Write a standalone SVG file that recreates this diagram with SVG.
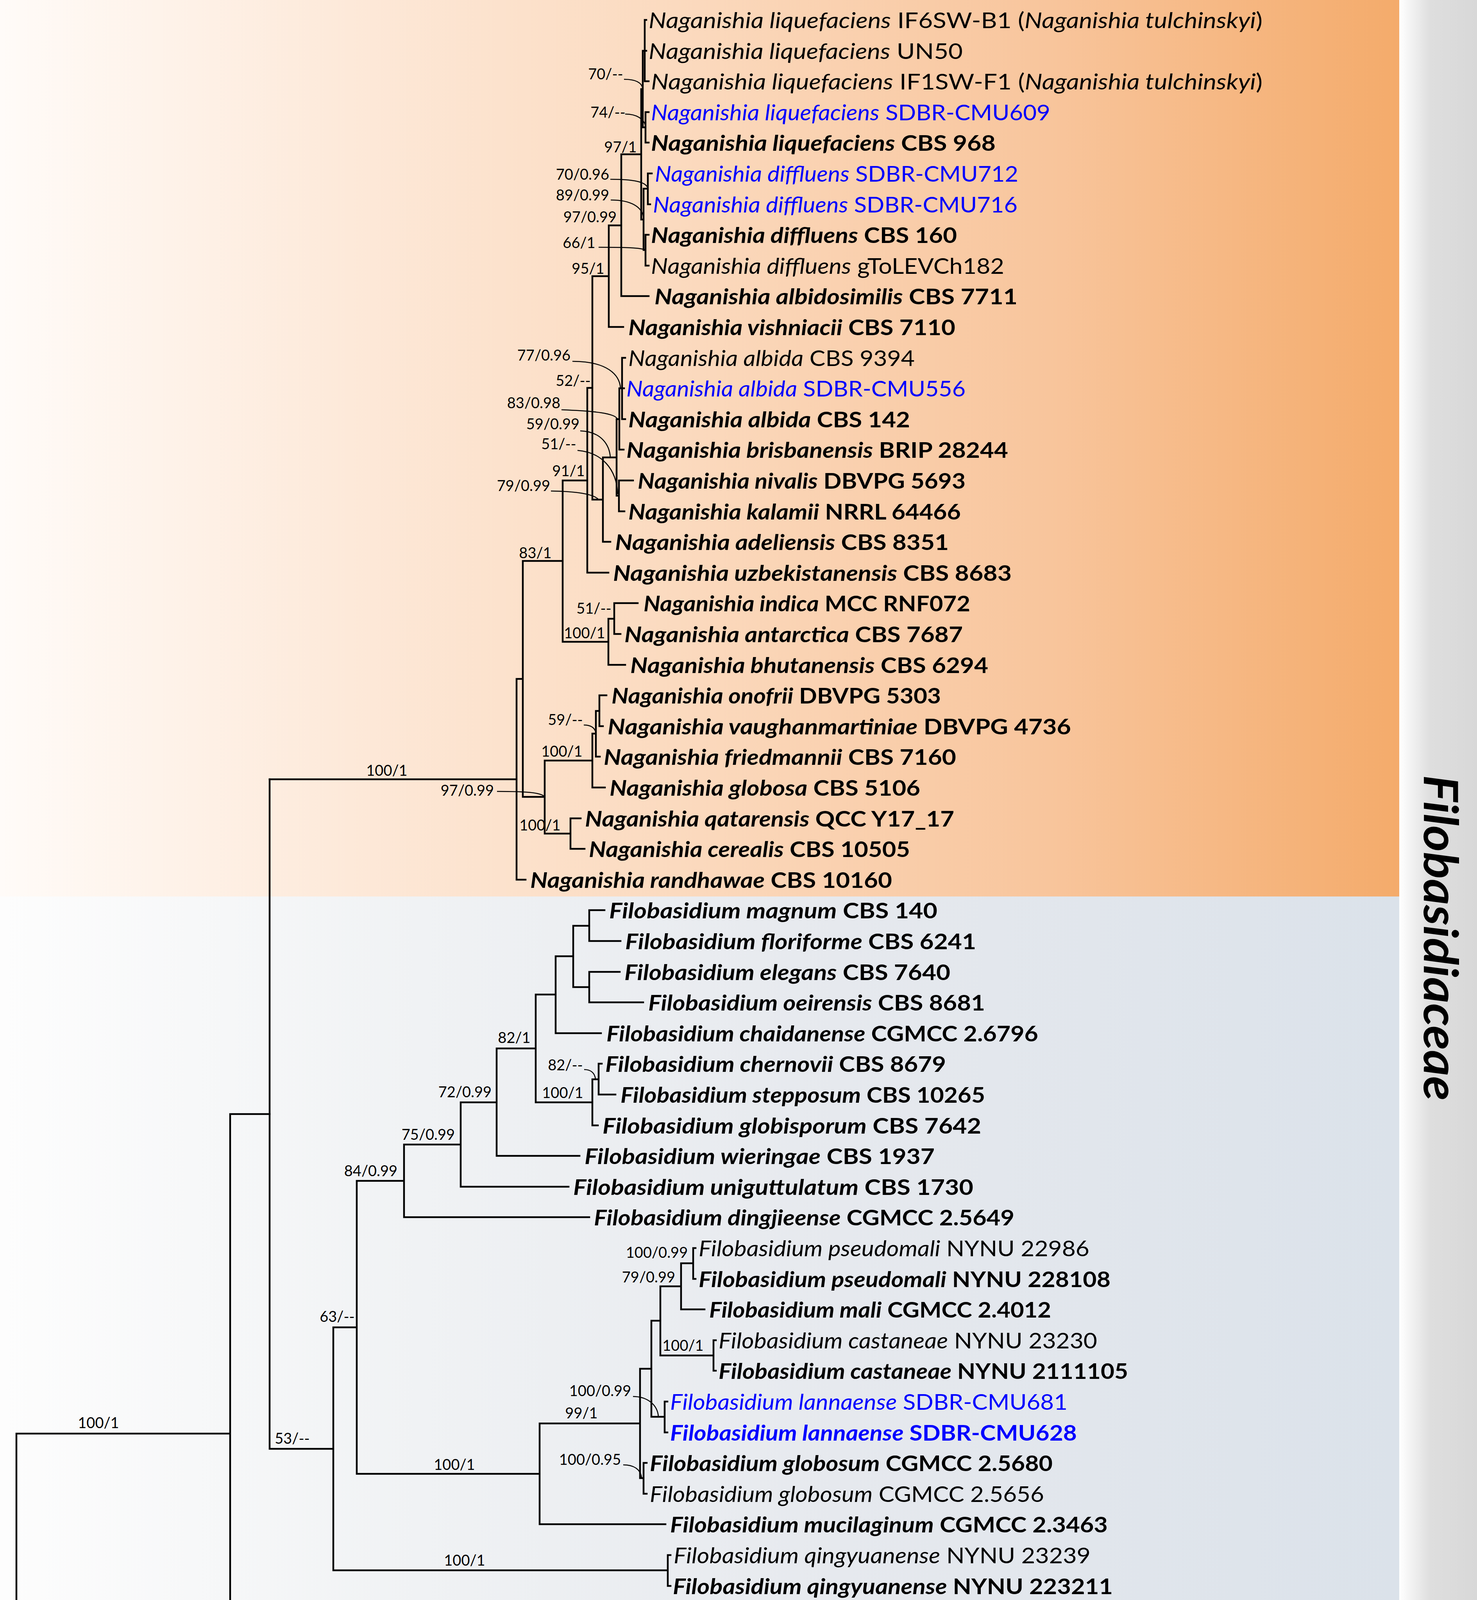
<svg xmlns="http://www.w3.org/2000/svg" width="3780" height="5126" viewBox="0 0 3780 5126">
<defs>
<linearGradient id="gOr" gradientUnits="userSpaceOnUse" x1="0" y1="0" x2="3581" y2="0">
<stop offset="0" stop-color="#fffbf8"/><stop offset="0.25" stop-color="#fde9d9"/><stop offset="0.5" stop-color="#fbd9bd"/><stop offset="0.75" stop-color="#f8c59c"/><stop offset="1" stop-color="#f4ab6b"/>
</linearGradient>
<linearGradient id="gBl" gradientUnits="userSpaceOnUse" x1="0" y1="0" x2="3581" y2="0">
<stop offset="0" stop-color="#fdfdfd"/><stop offset="0.3" stop-color="#f0f2f4"/><stop offset="0.6" stop-color="#e6e9ee"/><stop offset="1" stop-color="#dbe2ea"/>
</linearGradient>
<linearGradient id="gGr" gradientUnits="userSpaceOnUse" x1="0" y1="0" x2="3780" y2="0">
<stop offset="0" stop-color="#fbfbfb"/><stop offset="0.3" stop-color="#e3e3e3"/><stop offset="0.6" stop-color="#d0d2d3"/><stop offset="0.85" stop-color="#c2c5c7"/><stop offset="1" stop-color="#bec2c4"/>
</linearGradient>
<linearGradient id="gSt" gradientUnits="userSpaceOnUse" x1="3581" y1="0" x2="3780" y2="0">
<stop offset="0" stop-color="#ffffff"/><stop offset="0.4" stop-color="#dedede"/><stop offset="1" stop-color="#d8d8d8"/>
</linearGradient>
</defs>
<style>
.lf{font-family:Lato,"Liberation Sans",sans-serif;font-size:56px;fill:#000}
.i{font-style:italic}
.b{font-weight:bold}
.blue{fill:#0000ff}
.sup{font-family:Lato,"Liberation Sans",sans-serif;font-size:38px;text-anchor:middle;fill:#000}
.br{stroke:#000;stroke-width:4.5;fill:none;stroke-linecap:square}
.ld{stroke:#000;stroke-width:2.6;fill:none}
</style>
<g id="background">
<rect x="0" y="0" width="3780" height="5126" fill="#ffffff"/>
<rect x="0" y="0" width="3581" height="2295" fill="url(#gOr)"/>
<rect x="0" y="2295" width="3581" height="1804" fill="url(#gBl)"/>
<rect x="0" y="4099" width="3581" height="232" fill="url(#gOr)"/>
<rect x="0" y="4331" width="3581" height="163" fill="url(#gBl)"/>
<rect x="0" y="4494" width="3581" height="150" fill="url(#gOr)"/>
<rect x="0" y="4644" width="3581" height="160" fill="url(#gBl)"/>
<rect x="0" y="4804" width="3780" height="234" fill="url(#gGr)"/>
<rect x="3581" y="0" width="199" height="4804" fill="url(#gSt)"/>
</g>
<g id="connectors">
<path class="br" d="M1650,51V208 M1650,51H1654 M1650,130H1654 M1650,208H1660
M1652,287V365 M1652,287H1660 M1652,365H1660
M1645,130V326 M1645,130H1650 M1645,326H1652
M1658,444V523 M1658,444H1668 M1658,523H1664
M1652,601V680 M1652,601H1660 M1652,680H1660
M1647,483V640 M1647,483H1658 M1647,640H1652
M1641,228V562 M1641,228H1645 M1641,562H1647
M1590,395V758 M1590,395H1641 M1590,758H1660
M1558,577V837 M1558,577H1590 M1558,837H1595
M1516,707V1279 M1516,707H1558 M1516,1279H1543
M1592,916V1073 M1592,916H1600 M1592,994H1597 M1592,1073H1600
M1585,994V1151 M1585,994H1592 M1585,1151H1596
M1584,1230V1309 M1584,1230H1620 M1584,1309H1598
M1578,1073V1269 M1578,1073H1585 M1578,1269H1584
M1543,1171V1387 M1543,1171H1578 M1543,1387H1562
M1503,993V1466 M1503,993H1516 M1503,1466H1557
M1572,1544V1623 M1572,1544H1632 M1572,1623H1588
M1557,1584V1702 M1557,1584H1572 M1557,1702H1600
M1440,1230V1643 M1440,1230H1503 M1440,1643H1557
M1534,1780V1859 M1534,1780H1552 M1534,1859H1543
M1525,1820V1937 M1525,1820H1534 M1525,1937H1535
M1516,1878V2016 M1516,1878H1525 M1516,2016H1548
M1460,2095V2173 M1460,2095H1486 M1460,2173H1496
M1394,1947V2134 M1394,1947H1516 M1394,2134H1460
M1338,1436V2040 M1338,1436H1440 M1338,2040H1394
M1322,1738V2252 M1322,1738H1338 M1322,2252H1345
M690,1995H1322"/>
<path class="br" d="M1508,2330V2409 M1508,2330H1547 M1508,2409H1588
M1508,2488V2566 M1508,2488H1586 M1508,2566H1646
M1467,2370V2527 M1467,2370H1508 M1467,2527H1508
M1422,2448V2645 M1422,2448H1467 M1422,2645H1538
M1532,2723V2802 M1532,2723H1540 M1532,2802H1575
M1516,2763V2881 M1516,2763H1532 M1516,2881H1530
M1371,2546V2822 M1371,2546H1422 M1371,2822H1516
M1271,2684V2959 M1271,2684H1371 M1271,2959H1483
M1179,2822V3038 M1179,2822H1271 M1179,3038H1455
M1034,2930V3116 M1034,2930H1179 M1034,3116H1508
M1774,3195V3274 M1774,3195H1780 M1774,3274H1780
M1743,3234V3352 M1743,3234H1774 M1743,3352H1803
M1826,3431V3509 M1826,3431H1832 M1826,3509H1832
M1690,3293V3470 M1690,3293H1743 M1690,3470H1826
M1701,3588V3667 M1701,3588H1708 M1701,3667H1708
M1667,3381V3627 M1667,3381H1690 M1667,3627H1701
M1647,3745V3824 M1647,3745H1655 M1647,3824H1655
M1638,3504V3784 M1638,3504H1667 M1638,3784H1647
M1381,3644V3902 M1381,3644H1638 M1381,3902H1703
M913,3023V3773 M913,3023H1034 M913,3773H1381
M1709,3981V4060 M1709,3981H1716 M1709,4060H1716
M853,3398V4020 M853,3398H913 M853,4020H1709
M690,1995V3709 M690,3709H853"/>
<path class="br" d="M1756,4138V4217 M1756,4138H1928 M1756,4217H1810
M1648,4178V4295 M1648,4178H1756 M1648,4295H1880
M2094,4374V4453 M2094,4374H2137 M2094,4453H2285
M1311,4237V4413 M1311,4237H1648 M1311,4413H2094
M1454,4531V4610 M1454,4531H2130 M1454,4610H2528
M1591,4688V4767 M1591,4688H1697 M1591,4767H1775
M829,4570V4728 M829,4570H1454 M829,4728H1591
M745,4325V4649 M745,4325H1311 M745,4649H829
M589,2852V4487 M589,2852H690 M589,4487H745
M1250,4846V4924 M1250,4846H1310 M1250,4924H1345
M1136,4885V5003 M1136,4885H1250 M1136,5003H1206
M42,3670V4944 M42,3670H589 M42,4944H1136 M14,4307H42"/>
<g id="leaders">
<path class="ld" d="M1597,203 C1625,203 1643,210 1645,228"/>
<path class="ld" d="M1600,292 C1630,292 1648,305 1652,322"/>
<path class="ld" d="M1562,459 C1620,459 1655,465 1658,483"/>
<path class="ld" d="M1563,512 C1615,512 1645,530 1647,559"/>
<path class="ld" d="M1532,633 C1600,633 1640,634 1652,640"/>
<path class="ld" d="M1465,925 C1555,925 1586,960 1588,994"/>
<path class="ld" d="M1437,1049 C1520,1052 1575,1058 1580,1073"/>
<path class="ld" d="M1485,1103 C1540,1105 1560,1140 1562,1171"/>
<path class="ld" d="M1478,1153 C1540,1158 1578,1200 1581,1265"/>
<path class="ld" d="M1410,1257 C1480,1258 1520,1265 1532,1279"/>
<path class="ld" d="M1494,1856 C1510,1856 1522,1862 1525,1876"/>
<path class="ld" d="M1272,2026 C1340,2026 1385,2028 1394,2040"/>
<path class="ld" d="M1495,2738 C1510,2738 1522,2745 1524,2763"/>
<path class="ld" d="M1620,3575 C1655,3575 1683,3595 1685,3627"/>
<path class="ld" d="M1595,3750 C1620,3750 1640,3760 1642,3784"/>
</g>
</g>
<g id="support">
<text class="sup" x="1550" y="203">70/--</text>
<text class="sup" x="1556" y="301">74/--</text>
<text class="sup" x="1588" y="390">97/1</text>
<text class="sup" x="1491" y="460">70/0.96</text>
<text class="sup" x="1491" y="513">89/0.99</text>
<text class="sup" x="1510" y="569">97/0.99</text>
<text class="sup" x="1482" y="635">66/1</text>
<text class="sup" x="1505" y="701">95/1</text>
<text class="sup" x="1392" y="923">77/0.96</text>
<text class="sup" x="1467" y="988">52/--</text>
<text class="sup" x="1366" y="1045">83/0.98</text>
<text class="sup" x="1415" y="1099">59/0.99</text>
<text class="sup" x="1430" y="1150">51/--</text>
<text class="sup" x="1455" y="1219">91/1</text>
<text class="sup" x="1340" y="1257">79/0.99</text>
<text class="sup" x="1370" y="1429">83/1</text>
<text class="sup" x="1520" y="1571">51/--</text>
<text class="sup" x="1496" y="1634">100/1</text>
<text class="sup" x="1447" y="1856">59/--</text>
<text class="sup" x="1438" y="1937">100/1</text>
<text class="sup" x="1196" y="2037">97/0.99</text>
<text class="sup" x="1382" y="2126">100/1</text>
<text class="sup" x="990" y="1986">100/1</text>
<text class="sup" x="252" y="3656">100/1</text>
<text class="sup" x="748" y="3696">53/--</text>
<text class="sup" x="863" y="3384">63/--</text>
<text class="sup" x="949" y="3011">84/0.99</text>
<text class="sup" x="1096" y="2918">75/0.99</text>
<text class="sup" x="1190" y="2809">72/0.99</text>
<text class="sup" x="1316" y="2670">82/1</text>
<text class="sup" x="1440" y="2811">100/1</text>
<text class="sup" x="1447" y="2740">82/--</text>
<text class="sup" x="1163" y="3763">100/1</text>
<text class="sup" x="1189" y="4008">100/1</text>
<text class="sup" x="1488" y="3631">99/1</text>
<text class="sup" x="1536" y="3574">100/0.99</text>
<text class="sup" x="1510" y="3750">100/0.95</text>
<text class="sup" x="1660" y="3283">79/0.99</text>
<text class="sup" x="1681" y="3220">100/0.99</text>
<text class="sup" x="1748" y="3458">100/1</text>
<text class="sup" x="666" y="4473">69/0.96</text>
<text class="sup" x="1062" y="4312">100/1</text>
<text class="sup" x="1434" y="4223">99/1</text>
<text class="sup" x="1675" y="4164">99/0.97</text>
<text class="sup" x="1599" y="4401">100/1</text>
<text class="sup" x="790" y="4636">50/--</text>
<text class="sup" x="1163" y="4560">100/1</text>
<text class="sup" x="1193" y="4715">100/1</text>
<text class="sup" x="561" y="4932">100/1</text>
<text class="sup" x="1181" y="4873">--/0.99</text>
</g>
<g id="leaves">
<g id="leaf-01"><text class="lf" x="1660" y="72" textLength="1571" lengthAdjust="spacingAndGlyphs"><tspan class="i">Naganishia liquefaciens</tspan> IF6SW-B1 (<tspan class="i">Naganishia tulchinskyi</tspan>)</text></g>
<g id="leaf-02"><text class="lf" x="1660" y="151" textLength="804" lengthAdjust="spacingAndGlyphs"><tspan class="i">Naganishia liquefaciens</tspan> UN50</text></g>
<g id="leaf-03"><text class="lf" x="1666" y="229" textLength="1565" lengthAdjust="spacingAndGlyphs"><tspan class="i">Naganishia liquefaciens</tspan> IF1SW-F1 (<tspan class="i">Naganishia tulchinskyi</tspan>)</text></g>
<g id="leaf-04"><text class="lf blue" x="1666" y="308" textLength="1022" lengthAdjust="spacingAndGlyphs"><tspan class="i">Naganishia liquefaciens</tspan> SDBR-CMU609</text></g>
<g id="leaf-05"><text class="lf b" x="1666" y="386" textLength="882" lengthAdjust="spacingAndGlyphs"><tspan class="i">Naganishia liquefaciens</tspan> CBS 968</text></g>
<g id="leaf-06"><text class="lf blue" x="1676" y="465" textLength="930" lengthAdjust="spacingAndGlyphs"><tspan class="i">Naganishia diffluens</tspan> SDBR-CMU712</text></g>
<g id="leaf-07"><text class="lf blue" x="1671" y="544" textLength="933" lengthAdjust="spacingAndGlyphs"><tspan class="i">Naganishia diffluens</tspan> SDBR-CMU716</text></g>
<g id="leaf-08"><text class="lf b" x="1666" y="622" textLength="783" lengthAdjust="spacingAndGlyphs"><tspan class="i">Naganishia diffluens</tspan> CBS 160</text></g>
<g id="leaf-09"><text class="lf" x="1666" y="701" textLength="904" lengthAdjust="spacingAndGlyphs"><tspan class="i">Naganishia diffluens</tspan> gToLEVCh182</text></g>
<g id="leaf-10"><text class="lf b" x="1675" y="779" textLength="929" lengthAdjust="spacingAndGlyphs"><tspan class="i">Naganishia albidosimilis</tspan> CBS 7711</text></g>
<g id="leaf-11"><text class="lf b" x="1608" y="858" textLength="837" lengthAdjust="spacingAndGlyphs"><tspan class="i">Naganishia vishniacii</tspan> CBS 7110</text></g>
<g id="leaf-12"><text class="lf" x="1608" y="937" textLength="733" lengthAdjust="spacingAndGlyphs"><tspan class="i">Naganishia albida</tspan> CBS 9394</text></g>
<g id="leaf-13"><text class="lf blue" x="1603" y="1015" textLength="868" lengthAdjust="spacingAndGlyphs"><tspan class="i">Naganishia albida</tspan> SDBR-CMU556</text></g>
<g id="leaf-14"><text class="lf b" x="1608" y="1094" textLength="721" lengthAdjust="spacingAndGlyphs"><tspan class="i">Naganishia albida</tspan> CBS 142</text></g>
<g id="leaf-15"><text class="lf b" x="1603" y="1172" textLength="977" lengthAdjust="spacingAndGlyphs"><tspan class="i">Naganishia brisbanensis</tspan> BRIP 28244</text></g>
<g id="leaf-16"><text class="lf b" x="1632" y="1251" textLength="839" lengthAdjust="spacingAndGlyphs"><tspan class="i">Naganishia nivalis</tspan> DBVPG 5693</text></g>
<g id="leaf-17"><text class="lf b" x="1608" y="1330" textLength="851" lengthAdjust="spacingAndGlyphs"><tspan class="i">Naganishia kalamii</tspan> NRRL 64466</text></g>
<g id="leaf-18"><text class="lf b" x="1574" y="1408" textLength="854" lengthAdjust="spacingAndGlyphs"><tspan class="i">Naganishia adeliensis</tspan> CBS 8351</text></g>
<g id="leaf-19"><text class="lf b" x="1569" y="1487" textLength="1020" lengthAdjust="spacingAndGlyphs"><tspan class="i">Naganishia uzbekistanensis</tspan> CBS 8683</text></g>
<g id="leaf-20"><text class="lf b" x="1647" y="1565" textLength="836" lengthAdjust="spacingAndGlyphs"><tspan class="i">Naganishia indica</tspan> MCC RNF072</text></g>
<g id="leaf-21"><text class="lf b" x="1598" y="1644" textLength="866" lengthAdjust="spacingAndGlyphs"><tspan class="i">Naganishia antarctica</tspan> CBS 7687</text></g>
<g id="leaf-22"><text class="lf b" x="1613" y="1723" textLength="916" lengthAdjust="spacingAndGlyphs"><tspan class="i">Naganishia bhutanensis</tspan> CBS 6294</text></g>
<g id="leaf-23"><text class="lf b" x="1565" y="1801" textLength="843" lengthAdjust="spacingAndGlyphs"><tspan class="i">Naganishia onofrii</tspan> DBVPG 5303</text></g>
<g id="leaf-24"><text class="lf b" x="1555" y="1880" textLength="1186" lengthAdjust="spacingAndGlyphs"><tspan class="i">Naganishia vaughanmartiniae</tspan> DBVPG 4736</text></g>
<g id="leaf-25"><text class="lf b" x="1545" y="1958" textLength="902" lengthAdjust="spacingAndGlyphs"><tspan class="i">Naganishia friedmannii</tspan> CBS 7160</text></g>
<g id="leaf-26"><text class="lf b" x="1560" y="2037" textLength="795" lengthAdjust="spacingAndGlyphs"><tspan class="i">Naganishia globosa</tspan> CBS 5106</text></g>
<g id="leaf-27"><text class="lf b" x="1497" y="2116" textLength="945" lengthAdjust="spacingAndGlyphs"><tspan class="i">Naganishia qatarensis</tspan> QCC Y17_17</text></g>
<g id="leaf-28"><text class="lf b" x="1507" y="2194" textLength="822" lengthAdjust="spacingAndGlyphs"><tspan class="i">Naganishia cerealis</tspan> CBS 10505</text></g>
<g id="leaf-29"><text class="lf b" x="1357" y="2273" textLength="926" lengthAdjust="spacingAndGlyphs"><tspan class="i">Naganishia randhawae</tspan> CBS 10160</text></g>
<g id="leaf-30"><text class="lf b" x="1559" y="2351" textLength="840" lengthAdjust="spacingAndGlyphs"><tspan class="i">Filobasidium magnum</tspan> CBS 140</text></g>
<g id="leaf-31"><text class="lf b" x="1600" y="2430" textLength="898" lengthAdjust="spacingAndGlyphs"><tspan class="i">Filobasidium floriforme</tspan> CBS 6241</text></g>
<g id="leaf-32"><text class="lf b" x="1598" y="2509" textLength="834" lengthAdjust="spacingAndGlyphs"><tspan class="i">Filobasidium elegans</tspan> CBS 7640</text></g>
<g id="leaf-33"><text class="lf b" x="1659" y="2587" textLength="862" lengthAdjust="spacingAndGlyphs"><tspan class="i">Filobasidium oeirensis</tspan> CBS 8681</text></g>
<g id="leaf-34"><text class="lf b" x="1552" y="2666" textLength="1105" lengthAdjust="spacingAndGlyphs"><tspan class="i">Filobasidium chaidanense</tspan> CGMCC 2.6796</text></g>
<g id="leaf-35"><text class="lf b" x="1549" y="2744" textLength="872" lengthAdjust="spacingAndGlyphs"><tspan class="i">Filobasidium chernovii</tspan> CBS 8679</text></g>
<g id="leaf-36"><text class="lf b" x="1588" y="2823" textLength="933" lengthAdjust="spacingAndGlyphs"><tspan class="i">Filobasidium stepposum</tspan> CBS 10265</text></g>
<g id="leaf-37"><text class="lf b" x="1542" y="2902" textLength="969" lengthAdjust="spacingAndGlyphs"><tspan class="i">Filobasidium globisporum</tspan> CBS 7642</text></g>
<g id="leaf-38"><text class="lf b" x="1496" y="2980" textLength="896" lengthAdjust="spacingAndGlyphs"><tspan class="i">Filobasidium wieringae</tspan> CBS 1937</text></g>
<g id="leaf-39"><text class="lf b" x="1467" y="3059" textLength="1024" lengthAdjust="spacingAndGlyphs"><tspan class="i">Filobasidium uniguttulatum</tspan> CBS 1730</text></g>
<g id="leaf-40"><text class="lf b" x="1520" y="3137" textLength="1076" lengthAdjust="spacingAndGlyphs"><tspan class="i">Filobasidium dingjieense</tspan> CGMCC 2.5649</text></g>
<g id="leaf-41"><text class="lf" x="1788" y="3216" textLength="1000" lengthAdjust="spacingAndGlyphs"><tspan class="i">Filobasidium pseudomali</tspan> NYNU 22986</text></g>
<g id="leaf-42"><text class="lf b" x="1788" y="3295" textLength="1054" lengthAdjust="spacingAndGlyphs"><tspan class="i">Filobasidium pseudomali</tspan> NYNU 228108</text></g>
<g id="leaf-43"><text class="lf b" x="1815" y="3373" textLength="875" lengthAdjust="spacingAndGlyphs"><tspan class="i">Filobasidium mali</tspan> CGMCC 2.4012</text></g>
<g id="leaf-44"><text class="lf" x="1839" y="3452" textLength="969" lengthAdjust="spacingAndGlyphs"><tspan class="i">Filobasidium castaneae</tspan> NYNU 23230</text></g>
<g id="leaf-45"><text class="lf b" x="1839" y="3530" textLength="1048" lengthAdjust="spacingAndGlyphs"><tspan class="i">Filobasidium castaneae</tspan> NYNU 2111105</text></g>
<g id="leaf-46"><text class="lf blue" x="1715" y="3609" textLength="1017" lengthAdjust="spacingAndGlyphs"><tspan class="i">Filobasidium lannaense</tspan> SDBR-CMU681</text></g>
<g id="leaf-47"><text class="lf blue b" x="1715" y="3688" textLength="1041" lengthAdjust="spacingAndGlyphs"><tspan class="i">Filobasidium lannaense</tspan> SDBR-CMU628</text></g>
<g id="leaf-48"><text class="lf b" x="1663" y="3766" textLength="1031" lengthAdjust="spacingAndGlyphs"><tspan class="i">Filobasidium globosum</tspan> CGMCC 2.5680</text></g>
<g id="leaf-49"><text class="lf" x="1663" y="3845" textLength="1009" lengthAdjust="spacingAndGlyphs"><tspan class="i">Filobasidium globosum</tspan> CGMCC 2.5656</text></g>
<g id="leaf-50"><text class="lf b" x="1715" y="3923" textLength="1120" lengthAdjust="spacingAndGlyphs"><tspan class="i">Filobasidium mucilaginum</tspan> CGMCC 2.3463</text></g>
<g id="leaf-51"><text class="lf" x="1724" y="4002" textLength="1067" lengthAdjust="spacingAndGlyphs"><tspan class="i">Filobasidium qingyuanense</tspan> NYNU 23239</text></g>
<g id="leaf-52"><text class="lf b" x="1722" y="4081" textLength="1126" lengthAdjust="spacingAndGlyphs"><tspan class="i">Filobasidium qingyuanense</tspan> NYNU 223211</text></g>
<g id="leaf-53"><text class="lf b" x="1941" y="4159" textLength="1125" lengthAdjust="spacingAndGlyphs"><tspan class="i">Heterocephalacria arrabidensis</tspan> CBS 8678</text></g>
<g id="leaf-54"><text class="lf b" x="1823" y="4238" textLength="1054" lengthAdjust="spacingAndGlyphs"><tspan class="i">Heterocephalacria hypogea</tspan> PYCC 6805</text></g>
<g id="leaf-55"><text class="lf b" x="1893" y="4316" textLength="1058" lengthAdjust="spacingAndGlyphs"><tspan class="i">Heterocephalacria lusitanica</tspan> CBS 10185</text></g>
<g id="leaf-56"><text class="lf" x="2150" y="4395" textLength="858" lengthAdjust="spacingAndGlyphs"><tspan class="i">Zyzygomyces bachmannii</tspan> AM72</text></g>
<g id="leaf-57"><text class="lf" x="2297" y="4474" textLength="948" lengthAdjust="spacingAndGlyphs"><tspan class="i">Zyzygomyces physciacearum</tspan> AM17</text></g>
<g id="leaf-58"><text class="lf b" x="2144" y="4552" textLength="883" lengthAdjust="spacingAndGlyphs"><tspan class="i">Goffeauzyma gastricus</tspan> CBS 2288</text></g>
<g id="leaf-59"><text class="lf b" x="2541" y="4631" textLength="1028" lengthAdjust="spacingAndGlyphs"><tspan class="i">Goffeauzyma aciditolerans</tspan> CBS 10872</text></g>
<g id="leaf-60"><text class="lf" x="1711" y="4709" textLength="666" lengthAdjust="spacingAndGlyphs"><tspan class="i">Syzygospora alba</tspan> AM147</text></g>
<g id="leaf-61"><text class="lf" x="1788" y="4788" textLength="776" lengthAdjust="spacingAndGlyphs"><tspan class="i">Syzygospora pallida</tspan> FO31621</text></g>
<g id="leaf-62"><text class="lf b" x="1323" y="4867" textLength="991" lengthAdjust="spacingAndGlyphs"><tspan class="i">Piskurozyma taiwanensis</tspan> JCM 11143</text></g>
<g id="leaf-63"><text class="lf b" x="1360" y="4945" textLength="864" lengthAdjust="spacingAndGlyphs"><tspan class="i">Piskurozyma silvicola</tspan> CBS 10099</text></g>
<g id="leaf-64"><text class="lf b" x="1219" y="5024" textLength="881" lengthAdjust="spacingAndGlyphs"><tspan class="i">Piskurozyma cylindrica</tspan> CBS 8680</text></g>
</g>
<g id="clade-labels">
<text x="0" y="0" transform="translate(3644,2401) rotate(90)" text-anchor="middle" font-family="Lato, 'Liberation Sans', sans-serif" font-size="120" font-weight="bold" font-style="italic" textLength="834" lengthAdjust="spacingAndGlyphs">Filobasidiaceae</text>
<text x="3329" y="4946" font-family="Lato, 'Liberation Sans', sans-serif" font-size="78" font-weight="bold" textLength="348" lengthAdjust="spacingAndGlyphs">Outgroup</text>
</g>
<g id="scale-bar">
<path d="M1110,5055H1437" stroke="#000" stroke-width="4.5" fill="none"/>
<text class="sup" x="1273" y="5104">0.07</text>
</g>
</svg>
